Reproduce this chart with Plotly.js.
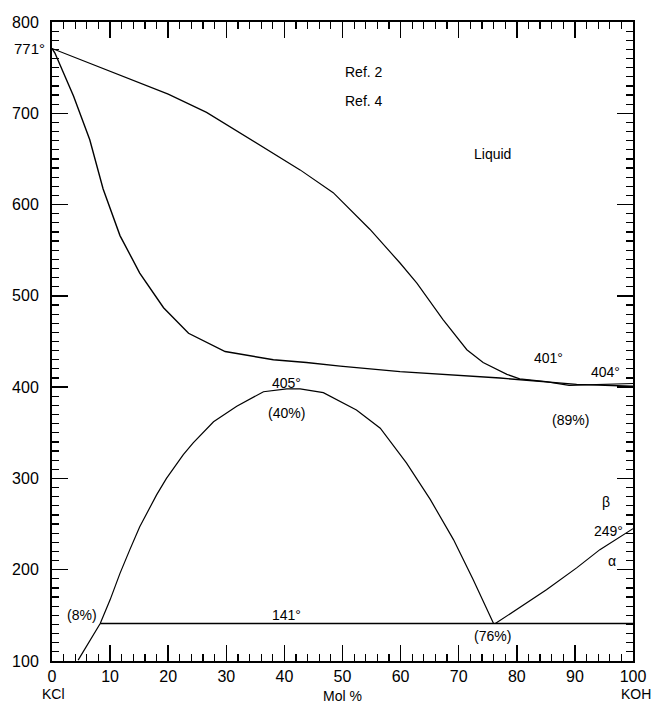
<!DOCTYPE html>
<html>
<head>
<meta charset="utf-8">
<script src="https://cdn.plot.ly/plotly-3.0.1.min.js"></script>
<style>html,body{margin:0;padding:0;background:#fff;}#chart{width:653px;height:704px;}</style>
</head>
<body>
<div id="chart"></div>
<script>
// Upper liquidus curve
const liqX = [0, 10, 20, 26.6, 34.6, 42.7, 48.4, 54.7, 59.9, 62.8, 67.3, 71.4, 74.2, 78.3, 80.5, 85, 89, 95, 100];
const liqY = [771, 746, 721, 701, 670, 638, 613, 573, 536, 514, 474, 441, 427, 414, 409, 406, 402, 403, 404];
// Lower (solidus) curve
const solX = [0, 0.5, 3.7, 6.5, 8.8, 11.7, 15.1, 19.2, 23.5, 29.8, 38.1, 43.8, 49.6, 59.9, 77.1, 90.3, 100];
const solY = [771, 766, 719, 671, 617, 566, 525, 487, 459, 439, 430, 427, 423, 417, 410, 403, 401];
// Solvus dome
const domeX = [4.5, 8.3, 10.0, 11.7, 13.4, 15.1, 18.0, 19.7, 22.6, 24.3, 27.8, 31.8, 36.4, 40.4, 42.7, 46.7, 52.4, 56.5, 61.0, 65.1, 69.1, 72.5, 76.0];
const domeY = [101, 141, 167, 196, 222, 247, 282, 300, 326, 339, 362, 379, 395, 398, 398, 394, 375, 355, 317, 277, 233, 189, 141];
// Eutectoid line
const eutX = [8.3, 100];
const eutY = [141, 141];
// Alpha / beta KOH transition
const abX = [76.3, 85.1, 90.3, 94.3, 100];
const abY = [141, 178, 202, 222, 245];
// Tick labels
const xTicks = [0, 10, 20, 30, 40, 50, 60, 70, 80, 90, 100];
const yTicks = [100, 200, 300, 400, 500, 600, 700, 800];
// Text labels
const labText = ["Ref. 2", "Ref. 4", "Liquid", "401°", "404°", "(89%)", "405°", "(40%)", "(8%)", "141°", "(76%)", "β", "249°", "α"];
const labX = [53.7, 53.7, 75.8, 85.5, 95.2, 89.3, 40.4, 40.3, 5.1, 40.4, 75.8, 95.4, 95.7, 96.4];
const labY = [745, 713, 655, 432, 417, 364, 405, 372, 150, 150, 127, 274, 242, 210];

const line = (x, y, w) => ({x: x, y: y, mode: 'lines', type: 'scatter', line: {color: 'black', width: w}, hoverinfo: 'skip', showlegend: false});
const data = [line(liqX, liqY, 1.2), line(solX, solY, 1.4), line(domeX, domeY, 1.2), line(eutX, eutY, 1.6), line(abX, abY, 1.2)];

const font = {family: 'Liberation Sans, Arial, sans-serif', color: 'black'};
const annotations = labText.map((t, i) => ({
  x: labX[i], y: labY[i], xref: 'x', yref: 'y', text: t, showarrow: false,
  font: Object.assign({}, font, {size: 14}), xanchor: 'center', yanchor: 'middle'
}));
annotations.push({x: -0.008, xref: 'paper', y: 771, yref: 'y', text: '771°', showarrow: false, xanchor: 'right', yanchor: 'middle', font: Object.assign({}, font, {size: 15})});
annotations.push({x: 0.003, xref: 'paper', y: -0.051, yref: 'paper', text: 'KCl', showarrow: false, xanchor: 'center', yanchor: 'middle', font: Object.assign({}, font, {size: 14})});
annotations.push({x: 1.005, xref: 'paper', y: -0.051, yref: 'paper', text: 'KOH', showarrow: false, xanchor: 'center', yanchor: 'middle', font: Object.assign({}, font, {size: 14})});
annotations.push({x: 0.5, xref: 'paper', y: -0.055, yref: 'paper', text: 'Mol %', showarrow: false, xanchor: 'center', yanchor: 'middle', font: Object.assign({}, font, {size: 14})});

const layout = {
  width: 653, height: 704,
  margin: {l: 52, r: 20, t: 22, b: 43},
  paper_bgcolor: 'white', plot_bgcolor: 'white',
  showlegend: false,
  font: font,
  xaxis: {
    range: [0, 100], tickvals: xTicks, ticktext: xTicks.map(String),
    ticks: 'inside', ticklen: 16, tickwidth: 1.5, tickcolor: 'black',
    minor: {dtick: 2, ticks: 'inside', ticklen: 7, tickwidth: 1.2, tickcolor: 'black'},
    showline: true, linecolor: 'black', linewidth: 2, mirror: 'ticks',
    showgrid: false, zeroline: false, tickfont: Object.assign({}, font, {size: 16}),
    ticklabelstandoff: 0, fixedrange: true
  },
  yaxis: {
    range: [100, 800], tickvals: yTicks, ticktext: yTicks.map(String),
    ticks: 'inside', ticklen: 16, tickwidth: 1.5, tickcolor: 'black',
    minor: {dtick: 10, ticks: 'inside', ticklen: 7, tickwidth: 1.2, tickcolor: 'black'},
    showline: true, linecolor: 'black', linewidth: 2, mirror: 'ticks',
    showgrid: false, zeroline: false, tickfont: Object.assign({}, font, {size: 16}),
    ticklabelstandoff: 8, fixedrange: true
  },
  annotations: annotations
};
Plotly.newPlot('chart', data, layout, {staticPlot: true, displayModeBar: false});
</script>
</body>
</html>
